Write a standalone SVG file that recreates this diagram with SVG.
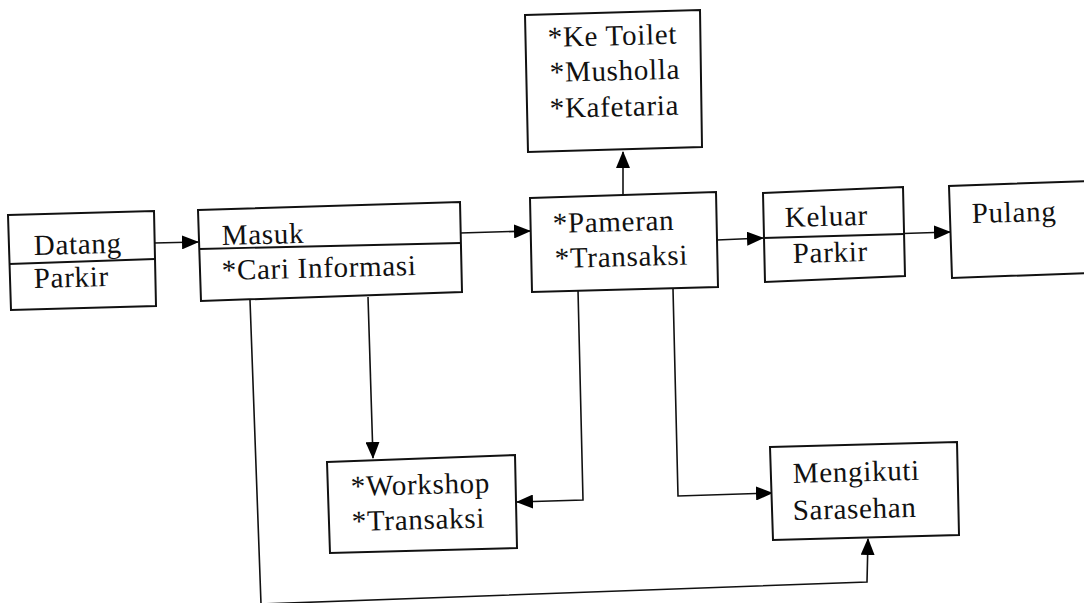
<svg xmlns="http://www.w3.org/2000/svg" width="1084" height="603" viewBox="0 0 1084 603">
<defs>
<marker id="ah" markerWidth="17" markerHeight="14" refX="16" refY="7" orient="auto" markerUnits="userSpaceOnUse">
<path d="M0,0 L17,7 L0,14 Z" fill="#000"/>
</marker>
<style>
.box{fill:#fff;stroke:#111;stroke-width:2;stroke-linejoin:miter}
.div{fill:none;stroke:#111;stroke-width:1.8}
.arr{fill:none;stroke:#111;stroke-width:1.6;marker-end:url(#ah)}
text{font-family:"Liberation Serif","Times New Roman",serif;font-size:29px;letter-spacing:0.7px;fill:#111}
</style>
</defs>
<rect width="1084" height="603" fill="#fff"/>

<g id="connectors">
<line class="arr" x1="154" y1="243" x2="198" y2="242"/>
<line class="arr" x1="460" y1="233" x2="530" y2="231"/>
<line class="arr" x1="623" y1="195" x2="623" y2="152"/>
<line class="arr" x1="717" y1="240" x2="763" y2="238"/>
<line class="arr" x1="763" y1="238" x2="950" y2="232"/>
<line class="arr" x1="368" y1="297" x2="373" y2="458"/>
<polyline class="arr" points="578,290 583,500 517,502"/>
<polyline class="arr" points="673,289 678,496 772,493"/>
<polyline class="arr" points="250,300 261,604 867,582 868,539"/>
</g>

<g id="datang">
<polygon class="box" points="8,215 154,211 156,306 11,310"/>
<line class="div" x1="9" y1="264" x2="155" y2="259"/>
<text x="34" y="255" transform="rotate(-1.5 34 255)">Datang</text>
<text x="34" y="288" transform="rotate(-1.5 34 288)">Parkir</text>
</g>

<g id="masuk">
<polygon class="box" points="198,210 460,202 462,292 201,301"/>
<line class="div" x1="199" y1="249" x2="461" y2="243"/>
<text x="222" y="245" transform="rotate(-1.5 222 245)">Masuk</text>
<text x="222" y="280" transform="rotate(-1.5 222 280)">*Cari Informasi</text>
</g>

<g id="fasilitas">
<polygon class="box" points="525,15 700,10 702,147 528,152"/>
<text x="548" y="47" transform="rotate(-1.5 548 47)">*Ke Toilet</text>
<text x="550" y="82" transform="rotate(-1.5 550 82)">*Musholla</text>
<text x="550" y="118" transform="rotate(-1.5 550 118)">*Kafetaria</text>
</g>

<g id="pameran">
<polygon class="box" points="530,198 716,192 718,287 532,292"/>
<text x="553" y="233" transform="rotate(-1.5 553 233)">*Pameran</text>
<text x="555" y="268" transform="rotate(-1.5 555 268)">*Transaksi</text>
</g>

<g id="keluar">
<polygon class="box" points="763,193 903,187 905,276 765,282"/>
<line class="div" x1="763" y1="238" x2="904" y2="234"/>
<text x="785" y="227" transform="rotate(-1.5 785 227)">Keluar</text>
<text x="793" y="263" transform="rotate(-1.5 793 263)">Parkir</text>
</g>

<g id="pulang">
<polyline class="box" points="1090,181 949,186 952,278 1090,273"/>
<text x="972" y="223" transform="rotate(-1.5 972 223)">Pulang</text>
</g>

<g id="workshop">
<polygon class="box" points="327,462 515,455 517,548 330,553"/>
<text x="351" y="496" transform="rotate(-1.5 351 496)">*Workshop</text>
<text x="352" y="531" transform="rotate(-1.5 352 531)">*Transaksi</text>
</g>

<g id="sarasehan">
<polygon class="box" points="770,447 957,442 959,535 773,540"/>
<text x="793" y="483" transform="rotate(-1.5 793 483)">Mengikuti</text>
<text x="793" y="520" transform="rotate(-1.5 793 520)">Sarasehan</text>
</g>
</svg>
